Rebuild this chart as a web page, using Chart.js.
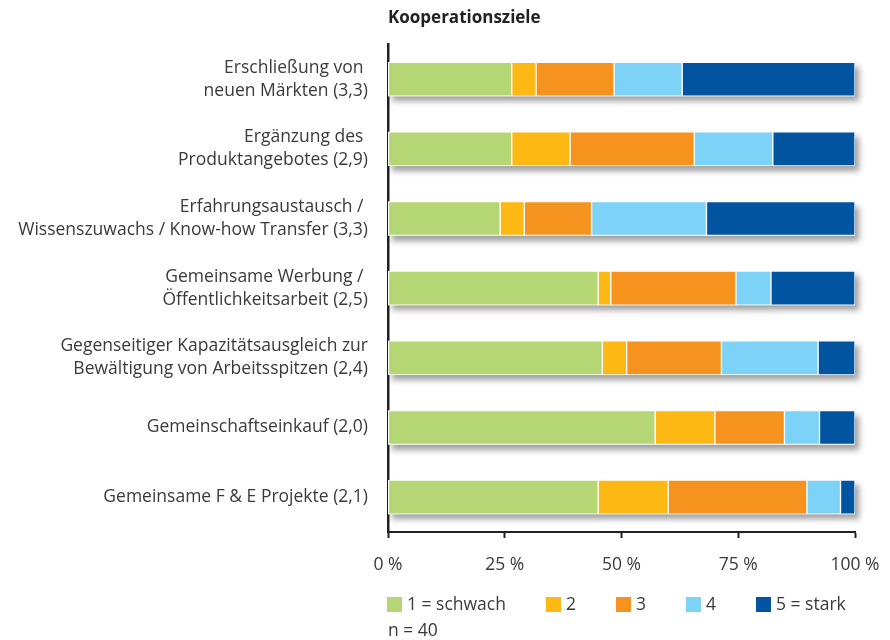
<!DOCTYPE html>
<html>
<head>
<meta charset="utf-8">
<script src="https://cdn.jsdelivr.net/npm/chart.js@4.4.1/dist/chart.umd.min.js"></script>
<style>
    html, body { margin: 0; padding: 0; background: #fff; }
    #wrap { width: 890px; height: 640px; }
</style>
</head>
<body>
<div id="wrap"><canvas id="myBarChart"></canvas></div>
<script>
// Kooperationsziele - Anteile je Bewertungsstufe (in %)
var labels = [
    ['Erschließung von ', 'neuen Märkten (3,3)'],
    ['Ergänzung des ', 'Produktangebotes (2,9)'],
    ['Erfahrungsaustausch / ', 'Wissenszuwachs / Know-how Transfer (3,3)'],
    ['Gemeinsame Werbung / ', 'Öffentlichkeitsarbeit (2,5)'],
    ['Gegenseitiger Kapazitätsausgleich zur', 'Bewältigung von Arbeitsspitzen (2,4)'],
    'Gemeinschaftseinkauf (2,0)',
    'Gemeinsame F & E Projekte (2,1)'
];
var stufe1 = [26.5, 26.5, 24.0, 45.0, 45.9, 57.2, 45.0];
var stufe2 = [5.2, 12.5, 5.2, 2.7, 5.2, 12.8, 15.0];
var stufe3 = [16.7, 26.6, 14.4, 26.8, 20.3, 14.9, 29.7];
var stufe4 = [14.6, 16.8, 24.6, 7.5, 20.7, 7.5, 7.2];
var stufe5 = [37.0, 17.6, 31.8, 18.0, 7.9, 7.6, 3.1];
var legendNames = ['1 = schwach', '2', '3', '4', '5 = stark'];
var xTicks = [0, 25, 50, 75, 100];

var FONT = '"Open Sans", "Noto Sans", sans-serif';
var TEXT = '#3a3a3a';

// grauer Schatten unter jedem Balken
var barShadow = {
    id: 'barShadow',
    beforeDatasetsDraw: function (chart) {
        var ctx = chart.ctx;
        var x = chart.scales.x;
        var meta = chart.getDatasetMeta(0);
        var left = x.getPixelForValue(0);
        var right = x.getPixelForValue(100);
        ctx.save();
        ctx.shadowColor = 'rgba(0, 0, 0, 0.38)';
        ctx.shadowBlur = 6;
        ctx.shadowOffsetX = 4;
        ctx.shadowOffsetY = 5;
        ctx.fillStyle = '#fff';
        meta.data.forEach(function (bar) {
            ctx.fillRect(left, bar.y - bar.height / 2, right - left, bar.height);
        });
        ctx.restore();
    }
};

// Legende in einer Zeile, linksbündig an der Achse
var flatLegend = {
    id: 'flatLegend',
    afterDraw: function (chart) {
        var ctx = chart.ctx;
        var x = chart.chartArea.left - 1;
        var y = chart.scales.x.bottom + 12;
        ctx.save();
        ctx.font = '17.5px ' + FONT;
        ctx.textBaseline = 'middle';
        ctx.textAlign = 'left';
        chart.data.datasets.forEach(function (ds) {
            ctx.fillStyle = ds.backgroundColor;
            ctx.fillRect(x, y - 8, 15, 15);
            ctx.fillStyle = TEXT;
            ctx.fillText(ds.label, x + 20, y);
            x += 20 + ctx.measureText(ds.label).width + 40;
        });
        ctx.restore();
    }
};

function makeSet(name, values, color) {
    return {
        label: name,
        data: values,
        backgroundColor: color,
        borderColor: '#ffffff',
        borderWidth: 1,
        borderSkipped: false,
        barThickness: 34
    };
}

var ctx = document.getElementById('myBarChart').getContext('2d');
var _myChart = new Chart(ctx, {
    type: 'bar',
    data: {
        labels: labels,
        datasets: [
            makeSet(legendNames[0], stufe1, '#b5d674'),
            makeSet(legendNames[1], stufe2, '#fdb813'),
            makeSet(legendNames[2], stufe3, '#f6921e'),
            makeSet(legendNames[3], stufe4, '#7dd3f7'),
            makeSet(legendNames[4], stufe5, '#0054a0')
        ]
    },
    options: {
        indexAxis: 'y',
        responsive: true,
        maintainAspectRatio: false,
        animation: false,
        layout: { padding: { left: 0, right: 0, top: 6, bottom: 0 } },
        scales: {
            x: {
                stacked: true,
                min: 0,
                max: 100,
                afterBuildTicks: function (axis) {
                    axis.ticks = xTicks.map(function (v) { return { value: v }; });
                },
                afterFit: function (axis) {
                    axis.paddingLeft = 0;
                    axis.paddingRight = 35;
                },
                ticks: {
                    callback: function (v) { return v + ' %'; },
                    color: TEXT,
                    font: { family: FONT, size: 17.5 },
                    padding: 17,
                    maxRotation: 0
                },
                grid: {
                    drawOnChartArea: false,
                    drawTicks: true,
                    tickLength: 6,
                    tickColor: '#222',
                    tickWidth: 2
                },
                border: { display: true, color: '#222', width: 2 }
            },
            y: {
                stacked: true,
                afterFit: function (axis) {
                    axis.width = 388;
                },
                ticks: {
                    color: TEXT,
                    font: { family: FONT, size: 17.5, lineHeight: 1.3 },
                    padding: 20
                },
                grid: { drawOnChartArea: false, drawTicks: false },
                border: { display: true, color: '#222', width: 2.5 }
            }
        },
        plugins: {
            title: {
                display: true,
                text: 'Kooperationsziele',
                align: 'start',
                fullSize: false,
                color: '#222',
                font: { family: FONT, size: 17, weight: 'bold' },
                padding: { top: 2, bottom: 16 }
            },
            legend: { display: false },
            subtitle: {
                display: true,
                position: 'bottom',
                align: 'start',
                fullSize: false,
                text: 'n = 40',
                color: TEXT,
                font: { family: FONT, size: 17.5, lineHeight: 1.0 },
                padding: { top: 29.5, bottom: 0 }
            },
            tooltip: { enabled: false }
        }
    },
    plugins: [barShadow, flatLegend]
});
</script>
</body>
</html>
